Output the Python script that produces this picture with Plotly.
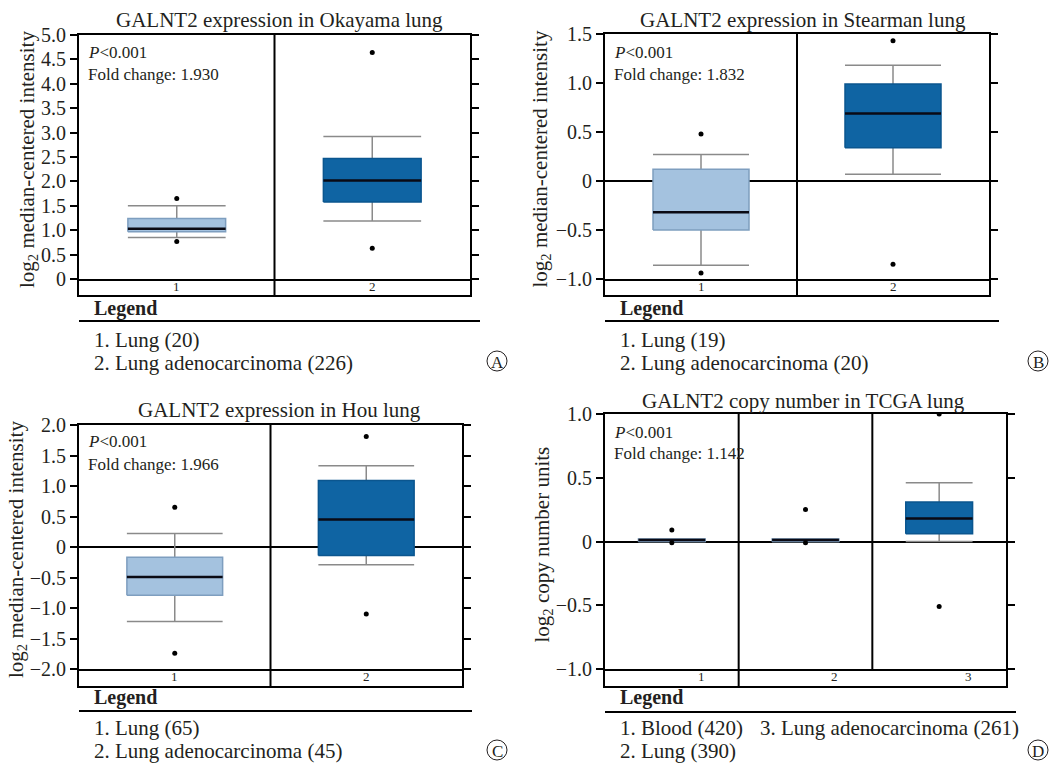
import plotly.graph_objects as go

# ---------------- data ----------------
A_title = "GALNT2 expression in Okayama lung"
A_cats = ["1", "2"]
A_q1 = [0.97, 1.58]
A_med = [1.03, 2.02]
A_q3 = [1.24, 2.47]
A_lo = [0.85, 1.19]
A_hi = [1.50, 2.92]
A_out = [[0.77, 1.65], [0.63, 4.64]]
A_ticks = [0, 0.5, 1.0, 1.5, 2.0, 2.5, 3.0, 3.5, 4.0, 4.5, 5.0]
A_ticktext = ["0", "0.5", "1.0", "1.5", "2.0", "2.5", "3.0", "3.5", "4.0", "4.5", "5.0"]
A_legend = ["1. Lung (20)", "2. Lung adenocarcinoma (226)"]
A_fold = "Fold change: 1.930"

B_title = "GALNT2 expression in Stearman lung"
B_cats = ["1", "2"]
B_q1 = [-0.50, 0.34]
B_med = [-0.32, 0.69]
B_q3 = [0.12, 0.99]
B_lo = [-0.86, 0.07]
B_hi = [0.27, 1.18]
B_out = [[-0.94, 0.48], [-0.85, 1.43]]
B_ticks = [-1.0, -0.5, 0, 0.5, 1.0, 1.5]
B_ticktext = ["\u22121.0", "\u22120.5", "0", "0.5", "1.0", "1.5"]
B_legend = ["1. Lung (19)", "2. Lung adenocarcinoma (20)"]
B_fold = "Fold change: 1.832"

C_title = "GALNT2 expression in Hou lung"
C_cats = ["1", "2"]
C_q1 = [-0.79, -0.14]
C_med = [-0.49, 0.45]
C_q3 = [-0.17, 1.09]
C_lo = [-1.22, -0.29]
C_hi = [0.22, 1.33]
C_out = [[-1.74, 0.65], [-1.10, 1.81]]
C_ticks = [-2.0, -1.5, -1.0, -0.5, 0, 0.5, 1.0, 1.5, 2.0]
C_ticktext = ["\u22122.0", "\u22121.5", "\u22121.0", "\u22120.5", "0", "0.5", "1.0", "1.5", "2.0"]
C_legend = ["1. Lung (65)", "2. Lung adenocarcinoma (45)"]
C_fold = "Fold change: 1.966"

D_title = "GALNT2 copy number in TCGA lung"
D_cats = ["1", "2", "3"]
D_q1 = [0.0, 0.0, 0.06]
D_med = [0.012, 0.012, 0.18]
D_q3 = [0.02, 0.02, 0.31]
D_lo = [0.0, 0.0, 0.0]
D_hi = [0.02, 0.02, 0.46]
D_out = [[-0.01, 0.09], [-0.01, 0.25], [-0.51, 1.0]]
D_ticks = [-1.0, -0.5, 0, 0.5, 1.0]
D_ticktext = ["\u22121.0", "\u22120.5", "0", "0.5", "1.0"]
D_legend_left = ["1. Blood (420)", "2. Lung (390)"]
D_legend_right = ["3. Lung adenocarcinoma (261)"]
D_fold = "Fold change: 1.142"

P_text = "<i>P</i>&lt;0.001"

# ---------------- styles ----------------
W, H = 1052, 766
FONT = "Liberation Serif"
TXT = "#231f20"
LIGHT_FILL, LIGHT_LINE = "#a4c2df", "#7e9ebf"
DARK_FILL, DARK_LINE = "#0f64a3", "#0b568f"
WHISK = "#8a8a8a"
HALF = 0.25


def px(x):
    return x / W


def py(y):
    return 1 - y / H


fig = go.Figure()
layout = dict(
    width=W, height=H, margin=dict(l=0, r=0, t=0, b=0, autoexpand=False),
    paper_bgcolor="white", plot_bgcolor="white", showlegend=False,
    font=dict(family=FONT, color=TXT),
)
shapes = []
annotations = []


def note(text, x, y, size, xanchor="center", family=FONT, **kw):
    d = dict(text=text, xref="paper", yref="paper", x=px(x), y=py(y), xanchor=xanchor,
             yanchor="middle", showarrow=False, font=dict(family=family, size=size, color=TXT))
    d.update(kw)
    annotations.append(d)


def add_panel(idx, box, yrange, ticks, ticktext, cats, q1, med, q3, lo, hi, outs, fills, title,
              title_xy, fold, ylabel, ylabel_x, legend_cols, letter, letter_xy, text_y, legend_y,
              strip_label_dx=0.0, short_dividers=()):
    left, right, top, bottom, sbottom = box
    n = len(cats)
    xa, ya = f"x{idx}", f"y{idx}"
    sx, sy = f"x{idx + 4}", f"y{idx + 4}"
    xrange = [0.5, n + 0.5]
    layout[f"xaxis{idx}"] = dict(domain=[px(left), px(right)], range=xrange, anchor=ya,
                                 showline=True, linewidth=2, linecolor="black", mirror=True,
                                 showticklabels=False, ticks="", showgrid=False, zeroline=False,
                                 fixedrange=True)
    layout[f"yaxis{idx}"] = dict(domain=[py(bottom), py(top)], range=yrange, anchor=xa,
                                 showline=True, linewidth=2, linecolor="black", mirror="ticks",
                                 ticks="outside", ticklen=7, tickwidth=2, tickcolor="black",
                                 tickvals=ticks, ticktext=ticktext,
                                 tickfont=dict(family=FONT, size=20, color=TXT),
                                 showgrid=False, zeroline=yrange[0] < 0, zerolinecolor="black",
                                 zerolinewidth=2, fixedrange=True)
    layout[f"xaxis{idx + 4}"] = dict(domain=[px(left), px(right)], range=xrange, anchor=sy,
                                     showline=True, linewidth=2, linecolor="black", mirror=False,
                                     side="bottom", showticklabels=False, ticks="",
                                     showgrid=False, zeroline=False, fixedrange=True)
    layout[f"yaxis{idx + 4}"] = dict(domain=[py(sbottom), py(bottom)], range=[0, 1], anchor=sx,
                                     showline=True, linewidth=2, linecolor="black", mirror=True,
                                     showticklabels=False, ticks="", showgrid=False,
                                     zeroline=False, fixedrange=True)
    # dividers between categories
    for k in range(1, n):
        xpos = k + 0.5
        y0 = py(bottom) if xpos in short_dividers else py(sbottom)
        shapes.append(dict(type="line", xref=xa, yref="paper", x0=xpos, x1=xpos,
                           y0=y0, y1=py(top), line=dict(color="black", width=2)))
    # strip labels
    for k, c in enumerate(cats):
        annotations.append(dict(text=c, xref=sx, yref=sy, x=k + 1 + strip_label_dx, y=0.55,
                                xanchor="center", yanchor="middle", showarrow=False,
                                font=dict(family=FONT, size=13, color=TXT)))
    # boxes
    for k in range(n):
        c = k + 1
        fill, line = fills[k]
        fig.add_trace(go.Scatter(x=[c, c, None, c, c], y=[lo[k], q1[k], None, q3[k], hi[k]],
                                 mode="lines", line=dict(color=WHISK, width=1.5),
                                 xaxis=xa, yaxis=ya, hoverinfo="skip"))
        fig.add_trace(go.Scatter(x=[c - HALF, c + HALF, None, c - HALF, c + HALF],
                                 y=[lo[k], lo[k], None, hi[k], hi[k]],
                                 mode="lines", line=dict(color=WHISK, width=1.5),
                                 xaxis=xa, yaxis=ya, hoverinfo="skip"))
        fig.add_trace(go.Scatter(x=[c - HALF, c + HALF, c + HALF, c - HALF, c - HALF],
                                 y=[q1[k], q1[k], q3[k], q3[k], q1[k]],
                                 mode="lines", fill="toself", fillcolor=fill,
                                 line=dict(color=line, width=1.5),
                                 xaxis=xa, yaxis=ya, hoverinfo="skip"))
        fig.add_trace(go.Scatter(x=[c - HALF, c + HALF], y=[med[k], med[k]], mode="lines",
                                 line=dict(color="#0a0a14", width=2.5),
                                 xaxis=xa, yaxis=ya, hoverinfo="skip"))
        fig.add_trace(go.Scatter(x=[c] * len(outs[k]), y=outs[k], mode="markers",
                                 marker=dict(color="black", size=5),
                                 xaxis=xa, yaxis=ya, hoverinfo="skip"))
    note(title, title_xy[0], title_xy[1], 21)
    note(P_text, left + 7, text_y[0], 17, xanchor="left")
    note(fold, left + 7, text_y[1], 17, xanchor="left")
    note(ylabel, ylabel_x, (top + bottom) / 2 + 3, 21, textangle=-90)
    leg_head, leg_line, leg_rows = legend_y
    note("<b>Legend</b>", left + 13, leg_head, 20, xanchor="left")
    shapes.append(dict(type="line", xref="paper", yref="paper", x0=px(left), x1=px(right + 10),
                       y0=py(leg_line), y1=py(leg_line), line=dict(color="black", width=2)))
    for col_x, items in legend_cols:
        for r, t in enumerate(items):
            note(t, col_x, leg_rows[r], 21, xanchor="left")
    cx, cy = letter_xy
    shapes.append(dict(type="circle", xref="paper", yref="paper", x0=px(cx - 10),
                       x1=px(cx + 10), y0=py(cy + 10), y1=py(cy - 10),
                       line=dict(color=TXT, width=1)))
    note(letter, cx, cy + 1, 17)


LBL_EXPR = "log<sub>2</sub> median-centered intensity"
LBL_CN = "log<sub>2</sub> copy number units"
light = (LIGHT_FILL, LIGHT_LINE)
dark = (DARK_FILL, DARK_LINE)

add_panel(1, (79, 470, 35, 279, 295), [0, 5], A_ticks, A_ticktext, A_cats,
          A_q1, A_med, A_q3, A_lo, A_hi, A_out, [light, dark], A_title, (279, 20), A_fold,
          LBL_EXPR, 28, [(92, A_legend)], "A", (497, 361), (53, 74), (308, 321, (340, 363)))
add_panel(2, (605, 989, 34, 279, 295), [-1, 1.5], B_ticks, B_ticktext, B_cats,
          B_q1, B_med, B_q3, B_lo, B_hi, B_out, [light, dark], B_title, (803, 20), B_fold,
          LBL_EXPR, 540, [(618, B_legend)], "B", (1038, 361), (53, 74), (308, 321, (340, 363)))
add_panel(3, (79, 462, 425, 669, 686), [-2, 2], C_ticks, C_ticktext, C_cats,
          C_q1, C_med, C_q3, C_lo, C_hi, C_out, [light, dark], C_title, (279, 410), C_fold,
          LBL_EXPR, 17, [(92, C_legend)], "C", (497, 750), (441, 464), (697, 711, (728, 751)))
add_panel(4, (605, 1006, 414, 669, 686), [-1, 1], D_ticks, D_ticktext, D_cats,
          D_q1, D_med, D_q3, D_lo, D_hi, D_out, [light, light, dark], D_title, (803, 401),
          D_fold, LBL_CN, 542, [(618, D_legend_left), (758, D_legend_right)], "D", (1038, 750),
          (432, 453), (697, 712, (728, 751)), strip_label_dx=0.22, short_dividers=(2.5,))

layout["shapes"] = shapes
layout["annotations"] = annotations
fig.update_layout(**layout)
fig.write_html("out.html", config={"displayModeBar": False},
               post_script="document.body.style.margin='0px';")
